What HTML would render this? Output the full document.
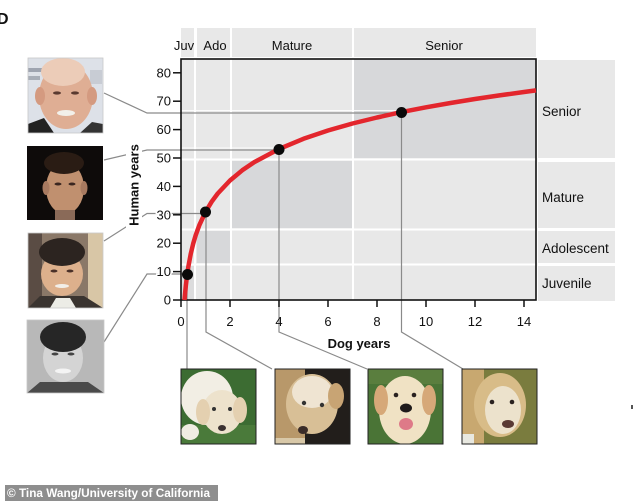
<!DOCTYPE html>
<html><head><meta charset="utf-8"><style>
html,body{margin:0;padding:0;background:#fff;}
svg{display:block;}
text{font-family:"Liberation Sans",Arial,sans-serif;fill:#111;}
</style></head><body>
<svg width="634" height="501" viewBox="0 0 634 501" xmlns="http://www.w3.org/2000/svg">
<defs>
<clipPath id="p1"><rect x="28" y="58" width="75" height="75"/></clipPath>
<clipPath id="p2"><rect x="27" y="146" width="76" height="74"/></clipPath>
<clipPath id="p3"><rect x="28" y="233" width="75" height="75"/></clipPath>
<clipPath id="p4"><rect x="27" y="320" width="77" height="73"/></clipPath>
<clipPath id="d1"><rect x="181" y="369" width="75" height="75"/></clipPath>
<clipPath id="d2"><rect x="275" y="369" width="75" height="75"/></clipPath>
<clipPath id="d3"><rect x="368" y="369" width="75" height="75"/></clipPath>
<clipPath id="d4"><rect x="462" y="369" width="75" height="75"/></clipPath>
</defs>
<rect width="634" height="501" fill="#fff"/>

<!-- D -->
<text x="-3" y="24" font-size="16" font-weight="bold">D</text>

<!-- top strip -->
<g fill="#e8e8e8">
<rect x="181" y="28" width="13" height="29"/>
<rect x="197" y="28" width="33" height="29"/>
<rect x="232" y="28" width="120" height="29"/>
<rect x="354" y="28" width="182" height="29"/>
</g>
<g font-size="13" text-anchor="middle">
<text x="184" y="50">Juv</text>
<text x="215" y="50">Ado</text>
<text x="292" y="50">Mature</text>
<text x="444" y="50">Senior</text>
</g>

<!-- right strip -->
<g fill="#e8e8e8">
<rect x="538" y="60" width="77" height="98"/>
<rect x="538" y="162" width="77" height="66"/>
<rect x="538" y="231" width="77" height="32"/>
<rect x="538" y="266" width="77" height="35"/>
</g>
<g font-size="13.5">
<text x="542" y="116">Senior</text>
<text x="542" y="202">Mature</text>
<text x="542" y="253">Adolescent</text>
<text x="542" y="288">Juvenile</text>
</g>

<!-- plot background -->
<rect x="181" y="59" width="355" height="241" fill="#e8e8e8"/>
<rect x="354" y="59" width="182" height="99" fill="#d7d8da"/>
<rect x="232" y="161" width="120" height="67" fill="#d7d8da"/>
<rect x="197" y="231" width="33" height="32" fill="#d7d8da"/>
<rect x="182" y="266" width="12" height="34" fill="#dcdcdd"/>
<g stroke="#fff" stroke-width="2">
<line x1="195" y1="59" x2="195" y2="300"/>
<line x1="231" y1="59" x2="231" y2="300"/>
<line x1="353" y1="59" x2="353" y2="300"/>
<line x1="181" y1="159.5" x2="536" y2="159.5"/>
<line x1="181" y1="229.5" x2="536" y2="229.5"/>
<line x1="181" y1="264.5" x2="536" y2="264.5"/>
</g>
<g stroke="#fff" stroke-width="1" opacity="0.9">
<line x1="181" y1="110.5" x2="400" y2="110.5"/>
<line x1="181" y1="148" x2="277" y2="148"/>
</g>

<!-- connectors -->
<g fill="none" stroke="#8a8a8a" stroke-width="1.2">
<polyline points="104,93 147,113 401.5,113"/>
<polyline points="401.5,113 401.5,332 463,369"/>
<polyline points="104,160 147,150 279,150"/>
<polyline points="279,150 279,332 367,369"/>
<polyline points="104,241 147,213.5 205.5,213.5"/>
<polyline points="206,213 206,332 272,369"/>
<polyline points="104,342 147,274 187,274"/>
<polyline points="187,275 187,369"/>
</g>

<!-- plot border -->
<rect x="181" y="59" width="355" height="241" fill="none" stroke="#111" stroke-width="1.6"/>

<!-- y ticks -->
<g stroke="#111" stroke-width="1.5">
<line x1="173" y1="300" x2="181" y2="300"/>
<line x1="173" y1="271.6" x2="181" y2="271.6"/>
<line x1="173" y1="243.2" x2="181" y2="243.2"/>
<line x1="173" y1="214.8" x2="181" y2="214.8"/>
<line x1="173" y1="186.4" x2="181" y2="186.4"/>
<line x1="173" y1="158" x2="181" y2="158"/>
<line x1="173" y1="129.6" x2="181" y2="129.6"/>
<line x1="173" y1="101.2" x2="181" y2="101.2"/>
<line x1="173" y1="72.8" x2="181" y2="72.8"/>
</g>
<g font-size="13" text-anchor="end" stroke="#fff" stroke-width="3" paint-order="stroke">
<text x="171" y="304.5">0</text>
<text x="171" y="276">10</text>
<text x="171" y="247.7">20</text>
<text x="171" y="219.3">30</text>
<text x="171" y="191">40</text>
<text x="171" y="162.5">50</text>
<text x="171" y="134">60</text>
<text x="171" y="105.7">70</text>
<text x="171" y="77.3">80</text>
</g>

<!-- x ticks -->
<g stroke="#111" stroke-width="1.5">
<line x1="181" y1="300" x2="181" y2="307"/>
<line x1="230" y1="300" x2="230" y2="307"/>
<line x1="279" y1="300" x2="279" y2="307"/>
<line x1="328" y1="300" x2="328" y2="307"/>
<line x1="377" y1="300" x2="377" y2="307"/>
<line x1="426" y1="300" x2="426" y2="307"/>
<line x1="475" y1="300" x2="475" y2="307"/>
<line x1="524" y1="300" x2="524" y2="307"/>
</g>
<g font-size="13" text-anchor="middle">
<text x="181" y="326">0</text>
<text x="230" y="326">2</text>
<text x="279" y="326" fill="#555">4</text>
<text x="328" y="326">6</text>
<text x="377" y="326">8</text>
<text x="426" y="326">10</text>
<text x="475" y="326">12</text>
<text x="524" y="326">14</text>
</g>
<text x="359" y="348" font-size="13" font-weight="bold" text-anchor="middle">Dog years</text>

<!-- Human years label -->
<rect x="126" y="140" width="16" height="88" fill="#fff"/>
<text x="185" y="138.5" font-size="13" font-weight="bold" text-anchor="middle" transform="rotate(-90 185 138.5) translate(0 0)" style="display:none">Human years</text>
<text font-size="13" font-weight="bold" text-anchor="middle" transform="translate(138.5 185) rotate(-90)">Human years</text>

<!-- curve -->
<polyline fill="none" stroke="#e3262d" stroke-width="4.5" stroke-linejoin="round" stroke-linecap="butt"
points="184.5,300 184.9,295.2 185.9,285.1 187.1,275 188.35,266.7 190.8,253.6 193.25,243.45 195.7,235.2 199.4,225 205.5,212 211.6,201.8 217.75,193.5 230,180.5 242.25,170.3 254.5,162 279,149 303.5,138.8 328,130.5 352.5,123.5 377,117.5 401.5,112.1 426,107.3 450.5,103 475,99 499.5,95.4 524,92 536,90.4"/>
<g fill="#0a0a0a">
<circle cx="187.5" cy="274.5" r="5.5"/>
<circle cx="205.5" cy="212" r="5.5"/>
<circle cx="279" cy="149.5" r="5.5"/>
<circle cx="401.5" cy="112.5" r="5.5"/>
</g>

<!-- Photo 1: older -->
<g clip-path="url(#p1)">
<rect x="28" y="58" width="75" height="75" fill="#dde1e8"/>
<rect x="28" y="68" width="14" height="4" fill="#9ea4b0"/>
<rect x="28" y="76" width="12" height="4" fill="#a8aeb8"/>
<rect x="90" y="70" width="12" height="14" fill="#c8ccd4"/>
<ellipse cx="66" cy="96" rx="27" ry="33" fill="#dfae94"/>
<ellipse cx="63" cy="72" rx="22" ry="14" fill="#ecccb8"/>
<ellipse cx="40" cy="96" rx="5" ry="9" fill="#d49a80"/>
<ellipse cx="92" cy="96" rx="5" ry="9" fill="#d49a80"/>
<ellipse cx="57" cy="93" rx="4" ry="1.6" fill="#5a3a30"/>
<ellipse cx="75" cy="93" rx="4" ry="1.6" fill="#5a3a30"/>
<ellipse cx="66" cy="113" rx="9" ry="3" fill="#f2f0ea"/>
<polygon points="28,133 28,124 44,118 54,133" fill="#222"/>
<polygon points="80,133 92,122 103,124 103,133" fill="#333"/>
</g>
<rect x="28" y="58" width="75" height="75" fill="none" stroke="#c8c8c8" stroke-width="0.8"/>

<!-- Photo 2: middle -->
<g clip-path="url(#p2)">
<rect x="27" y="146" width="76" height="74" fill="#0e0b0a"/>
<ellipse cx="65" cy="188" rx="19" ry="26" fill="#c0906f"/>
<ellipse cx="64" cy="163" rx="20" ry="11" fill="#2a1c14"/>
<ellipse cx="46" cy="188" rx="3.5" ry="7" fill="#a87a60"/>
<ellipse cx="84" cy="188" rx="3.5" ry="7" fill="#a87a60"/>
<ellipse cx="58" cy="184" rx="3.5" ry="1.5" fill="#3a2620"/>
<ellipse cx="72" cy="184" rx="3.5" ry="1.5" fill="#3a2620"/>
<rect x="55" y="210" width="20" height="10" fill="#8a6a58"/>
</g>

<!-- Photo 3: young adult -->
<g clip-path="url(#p3)">
<rect x="28" y="233" width="75" height="75" fill="#8a7868"/>
<rect x="28" y="233" width="14" height="75" fill="#5a4c44"/>
<rect x="88" y="233" width="15" height="75" fill="#d8c6a6"/>
<ellipse cx="62" cy="274" rx="21" ry="22" fill="#ddb08c"/>
<ellipse cx="62" cy="252" rx="23" ry="14" fill="#2c2420"/>
<ellipse cx="54" cy="271" rx="3.5" ry="1.5" fill="#4a3028"/>
<ellipse cx="70" cy="271" rx="3.5" ry="1.5" fill="#4a3028"/>
<ellipse cx="62" cy="286" rx="7" ry="2" fill="#f2eee8"/>
<polygon points="28,308 40,296 84,296 103,308" fill="#3a3430"/>
<polygon points="50,308 56,298 70,298 76,308" fill="#ecece6"/>
</g>
<rect x="28" y="233" width="75" height="75" fill="none" stroke="#c8c8c8" stroke-width="0.8"/>

<!-- Photo 4: kid -->
<g clip-path="url(#p4)">
<rect x="27" y="320" width="77" height="73" fill="#b8b8b8"/>
<ellipse cx="63" cy="358" rx="20" ry="24" fill="#d4d4d4"/>
<ellipse cx="63" cy="337" rx="23" ry="15" fill="#262626"/>
<ellipse cx="55" cy="354" rx="3.5" ry="1.5" fill="#444"/>
<ellipse cx="71" cy="354" rx="3.5" ry="1.5" fill="#444"/>
<ellipse cx="63" cy="371" rx="8" ry="2.5" fill="#f4f4f4"/>
<polygon points="27,393 40,382 88,382 104,393" fill="#4a4a4a"/>
</g>
<rect x="27" y="320" width="77" height="73" fill="none" stroke="#c8c8c8" stroke-width="0.8"/>

<!-- Dog 1 -->
<g clip-path="url(#d1)">
<rect x="181" y="369" width="75" height="75" fill="#3c6c32"/>
<rect x="181" y="425" width="75" height="19" fill="#4a7a3a"/>
<ellipse cx="207" cy="398" rx="26" ry="27" fill="#f2eee4"/>
<ellipse cx="222" cy="412" rx="20" ry="22" fill="#ede2cc"/>
<ellipse cx="203" cy="412" rx="7" ry="13" fill="#e4d0b0"/>
<ellipse cx="240" cy="410" rx="7" ry="13" fill="#e4d0b0"/>
<circle cx="214" cy="409" r="2" fill="#333"/>
<circle cx="230" cy="409" r="2" fill="#333"/>
<ellipse cx="222" cy="428" rx="4" ry="3" fill="#3a3030"/>
<ellipse cx="190" cy="432" rx="9" ry="8" fill="#f0ece2"/>
</g>
<rect x="181" y="369" width="75" height="75" fill="none" stroke="#222" stroke-width="1"/>

<!-- Dog 2 -->
<g clip-path="url(#d2)">
<rect x="275" y="369" width="75" height="75" fill="#221e1b"/>
<rect x="275" y="369" width="30" height="75" fill="#b8986a"/>
<ellipse cx="312" cy="404" rx="26" ry="30" fill="#d8bf96"/>
<ellipse cx="312" cy="392" rx="20" ry="16" fill="#efe4d2"/>
<ellipse cx="336" cy="396" rx="8" ry="13" fill="#c8a474"/>
<circle cx="304" cy="403" r="2.2" fill="#333"/>
<circle cx="322" cy="405" r="2.2" fill="#333"/>
<ellipse cx="303" cy="430" rx="5" ry="4" fill="#3a2c28"/>
<rect x="275" y="438" width="30" height="6" fill="#d8c8a8"/>
</g>
<rect x="275" y="369" width="75" height="75" fill="none" stroke="#222" stroke-width="1"/>

<!-- Dog 3 -->
<g clip-path="url(#d3)">
<rect x="368" y="369" width="75" height="75" fill="#4a7436"/>
<rect x="368" y="369" width="75" height="15" fill="#5a7e3e"/>
<ellipse cx="405" cy="410" rx="26" ry="34" fill="#f0e2c4"/>
<ellipse cx="381" cy="400" rx="7" ry="15" fill="#d6a878"/>
<ellipse cx="429" cy="400" rx="7" ry="15" fill="#d6a878"/>
<circle cx="396" cy="395" r="2.3" fill="#2a2220"/>
<circle cx="414" cy="395" r="2.3" fill="#2a2220"/>
<ellipse cx="406" cy="408" rx="6" ry="4.5" fill="#1e1a1a"/>
<ellipse cx="406" cy="424" rx="7" ry="6" fill="#de7a88"/>
</g>
<rect x="368" y="369" width="75" height="75" fill="none" stroke="#222" stroke-width="1"/>

<!-- Dog 4 -->
<g clip-path="url(#d4)">
<rect x="462" y="369" width="75" height="75" fill="#7a7c3e"/>
<rect x="462" y="369" width="22" height="75" fill="#c8a870"/>
<ellipse cx="500" cy="405" rx="26" ry="32" fill="#d8bc88"/>
<ellipse cx="503" cy="410" rx="18" ry="24" fill="#ece2cc"/>
<circle cx="492" cy="402" r="2.3" fill="#2a2220"/>
<circle cx="512" cy="402" r="2.3" fill="#2a2220"/>
<ellipse cx="508" cy="424" rx="6" ry="4" fill="#5a3a34"/>
<rect x="462" y="434" width="12" height="10" fill="#e8e8e0"/>
</g>
<rect x="462" y="369" width="75" height="75" fill="none" stroke="#222" stroke-width="1"/>

<!-- right edge artifact -->
<rect x="631" y="405" width="2" height="4" fill="#555"/>

<!-- credit -->
<rect x="5" y="485" width="213" height="16" fill="#8e8e8e"/>
<text x="7" y="497" font-size="12" font-weight="bold" fill="#fff" style="fill:#fff" textLength="203" lengthAdjust="spacingAndGlyphs">© Tina Wang/University of California</text>
</svg>
</body></html>
